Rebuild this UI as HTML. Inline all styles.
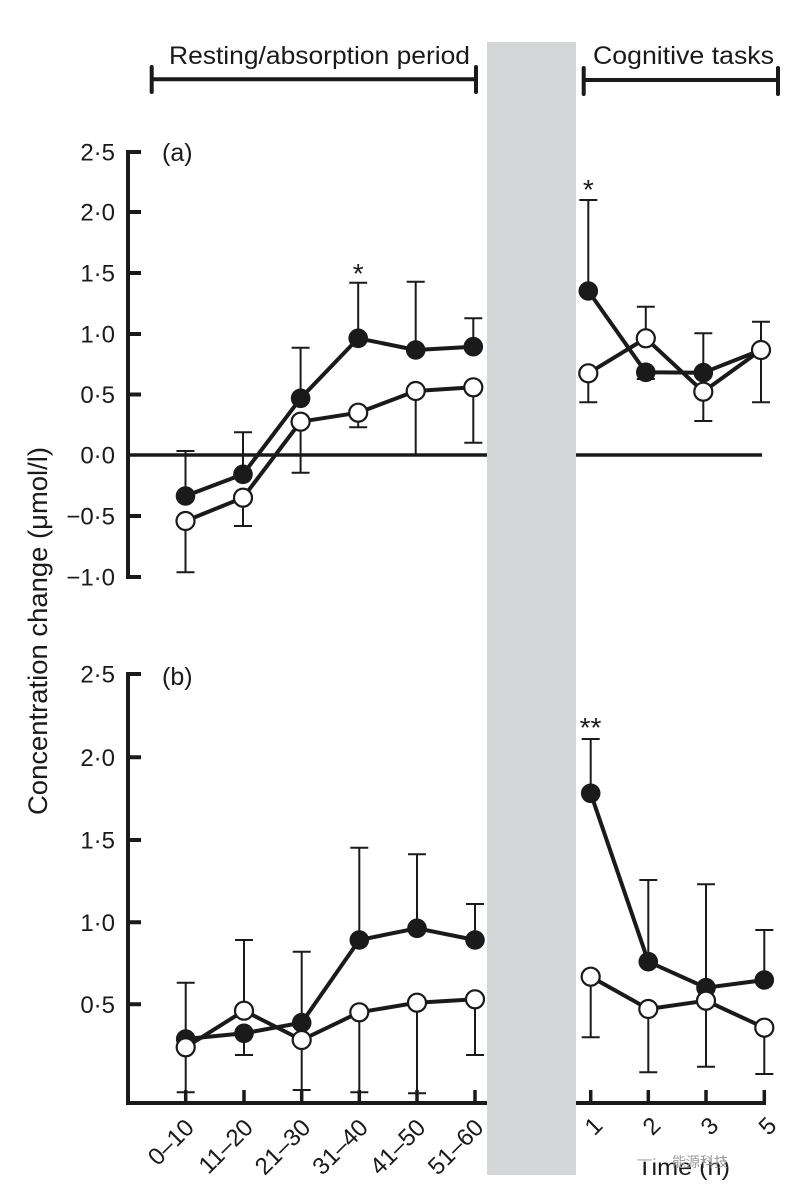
<!DOCTYPE html>
<html><head><meta charset="utf-8"><style>
html,body{margin:0;padding:0;background:#fff;}
svg{display:block;}
text{font-family:"Liberation Sans",Arial,sans-serif;fill:#1a1a1a;}
</style></head><body>
<svg width="803" height="1195" viewBox="0 0 803 1195" xmlns="http://www.w3.org/2000/svg">
<rect x="0" y="0" width="803" height="1195" fill="#fff"/>

<!-- headers -->
<text x="169" y="64" font-size="25" textLength="301" lengthAdjust="spacingAndGlyphs">Resting/absorption period</text>
<text x="593" y="64" font-size="25" textLength="181" lengthAdjust="spacingAndGlyphs">Cognitive tasks</text>
<g stroke="#1a1a1a" stroke-width="4" stroke-linecap="round" fill="none">
<path d="M151.7 79.3 H476 M151.7 67 V92 M476 67 V92"/>
<path d="M583.7 80 H778 M583.7 68 V94 M778 68 V94"/>
</g>

<!-- y label -->
<text transform="translate(47,631) rotate(-90)" text-anchor="middle" font-size="27" textLength="368" lengthAdjust="spacingAndGlyphs">Concentration change (μmol/l)</text>

<!-- Panel a axes -->
<g stroke="#1a1a1a" fill="none" stroke-width="4">
<path d="M128 150 V579"/>
<path d="M126 152 H141 M126 212 H141 M126 273 H141 M126 334 H141 M126 394.5 H141 M126 516 H141 M126 577 H141"/>
<path d="M126 455 H762" stroke-width="3.5"/>
</g>
<g font-size="24" text-anchor="end">
<text x="115" y="160.5">2·5</text>
<text x="115" y="220.5">2·0</text>
<text x="115" y="281.5">1·5</text>
<text x="115" y="342.5">1·0</text>
<text x="115" y="403">0·5</text>
<text x="115" y="463.5">0·0</text>
<text x="115" y="524.5">−0·5</text>
<text x="115" y="585.5">−1·0</text>
</g>
<text x="162" y="161" font-size="25">(a)</text>

<!-- Panel b axes -->
<g stroke="#1a1a1a" fill="none" stroke-width="4">
<path d="M128 672 V1105"/>
<path d="M126 674 H141 M126 757.3 H141 M126 840 H141 M126 922.3 H141 M126 1004.3 H141"/>
<path d="M126 1103 H766"/>
<path d="M185.7 1090 V1103 M244 1090 V1103 M301.7 1090 V1103 M359.3 1090 V1103 M417 1090 V1103 M475 1090 V1103 M590.7 1090 V1103 M648.3 1090 V1103 M706 1090 V1103 M764.3 1090 V1103" stroke-width="3.5"/>
</g>
<g font-size="24" text-anchor="end">
<text x="115" y="682.5">2·5</text>
<text x="115" y="765.8">2·0</text>
<text x="115" y="848.5">1·5</text>
<text x="115" y="930.8">1·0</text>
<text x="115" y="1012.8">0·5</text>
</g>
<text x="162" y="685" font-size="25">(b)</text>

<!-- Panel a error bars -->
<g stroke="#1a1a1a" stroke-width="2" fill="none">
<path d="M185.5 496 V451 M176.5 451 H194.5"/>
<path d="M243 474.3 V432.3 M234 432.3 H252"/>
<path d="M300.6 398.3 V347.7 M291.6 347.7 H309.6"/>
<path d="M358.2 338.3 V282.7 M349.2 282.7 H367.2"/>
<path d="M415.7 350 V281.7 M406.7 281.7 H424.7"/>
<path d="M473.3 346.7 V318.3 M464.3 318.3 H482.3"/>
<path d="M588.3 291 V200 M579.3 200 H597.3"/>
<path d="M645.8 372.3 V379 M636.8 379 H654.8"/>
<path d="M703.3 372.7 V333.3 M694.3 333.3 H712.3"/>
<path d="M761 350 V321.7 M752 321.7 H770"/>
<path d="M185.5 521 V572.3 M176.5 572.3 H194.5"/>
<path d="M243 497.7 V526 M234 526 H252"/>
<path d="M300.6 421.7 V472.7 M291.6 472.7 H309.6"/>
<path d="M358.2 412.7 V427.3 M349.2 427.3 H367.2"/>
<path d="M415.7 391 V455"/>
<path d="M473.3 387.3 V442.7 M464.3 442.7 H482.3"/>
<path d="M588.3 373.3 V402.3 M579.3 402.3 H597.3"/>
<path d="M645.8 338.3 V306.7 M636.8 306.7 H654.8"/>
<path d="M703.3 391.7 V421 M694.3 421 H712.3"/>
<path d="M761 350 V402.3 M752 402.3 H770"/>
</g>

<!-- Panel b error bars -->
<g stroke="#1a1a1a" stroke-width="2" fill="none">
<path d="M185.7 1039 V982.7 M176.7 982.7 H194.7"/>
<path d="M244 1033.3 V1055 M235 1055 H253"/>
<path d="M301.7 1022.7 V951.7 M292.7 951.7 H310.7"/>
<path d="M359.3 940 V847.7 M350.3 847.7 H368.3"/>
<path d="M417 928.3 V854.3 M408 854.3 H426"/>
<path d="M475 940 V904 M466 904 H484"/>
<path d="M590.7 793.3 V739 M581.7 739 H599.7"/>
<path d="M648.3 961.7 V880 M639.3 880 H657.3"/>
<path d="M706 987.7 V884.3 M697 884.3 H715"/>
<path d="M764.3 980 V930 M755.3 930 H773.3"/>
<path d="M185.7 1047.3 V1092.3 M176.7 1092.3 H194.7"/>
<path d="M244 1010.7 V940 M235 940 H253"/>
<path d="M301.7 1040 V1090 M292.7 1090 H310.7"/>
<path d="M359.3 1012.3 V1092.3 M350.3 1092.3 H368.3"/>
<path d="M417 1002.7 V1093.3 M408 1093.3 H426"/>
<path d="M475 999.3 V1055 M466 1055 H484"/>
<path d="M590.7 976.7 V1037.3 M581.7 1037.3 H599.7"/>
<path d="M648.3 1009 V1072.3 M639.3 1072.3 H657.3"/>
<path d="M706 1000.7 V1066.7 M697 1066.7 H715"/>
<path d="M764.3 1027.7 V1074 M755.3 1074 H773.3"/>
</g>

<!-- filled series -->
<g stroke="#1a1a1a" stroke-width="4" fill="none" stroke-linejoin="round">
<polyline points="185.5,496 243,474.3 300.6,398.3 358.2,338.3 415.7,350 473.3,346.7"/>
<polyline points="588.3,291 645.8,372.3 703.3,372.7 761,350"/>
<polyline points="185.7,1039 244,1033.3 301.7,1022.7 359.3,940 417,928.3 475,940"/>
<polyline points="590.7,793.3 648.3,961.7 706,987.7 764.3,980"/>
</g>
<g fill="#1a1a1a">
<circle cx="185.5" cy="496" r="9.8"/><circle cx="243" cy="474.3" r="9.8"/><circle cx="300.6" cy="398.3" r="9.8"/><circle cx="358.2" cy="338.3" r="9.8"/><circle cx="415.7" cy="350" r="9.8"/><circle cx="473.3" cy="346.7" r="9.8"/>
<circle cx="588.3" cy="291" r="9.8"/><circle cx="645.8" cy="372.3" r="9.8"/><circle cx="703.3" cy="372.7" r="9.8"/><circle cx="761" cy="350" r="9.8"/>
<circle cx="185.7" cy="1039" r="9.8"/><circle cx="244" cy="1033.3" r="9.8"/><circle cx="301.7" cy="1022.7" r="9.8"/><circle cx="359.3" cy="940" r="9.8"/><circle cx="417" cy="928.3" r="9.8"/><circle cx="475" cy="940" r="9.8"/>
<circle cx="590.7" cy="793.3" r="9.8"/><circle cx="648.3" cy="961.7" r="9.8"/><circle cx="706" cy="987.7" r="9.8"/><circle cx="764.3" cy="980" r="9.8"/>
</g>

<!-- open series -->
<g stroke="#1a1a1a" stroke-width="4" fill="none" stroke-linejoin="round">
<polyline points="185.5,521 243,497.7 300.6,421.7 358.2,412.7 415.7,391 473.3,387.3"/>
<polyline points="588.3,373.3 645.8,338.3 703.3,391.7 761,350"/>
<polyline points="185.7,1047.3 244,1010.7 301.7,1040 359.3,1012.3 417,1002.7 475,999.3"/>
<polyline points="590.7,976.7 648.3,1009 706,1000.7 764.3,1027.7"/>
</g>
<g fill="#fff" stroke="#1a1a1a" stroke-width="2.2">
<circle cx="185.5" cy="521" r="9"/><circle cx="243" cy="497.7" r="9"/><circle cx="300.6" cy="421.7" r="9"/><circle cx="358.2" cy="412.7" r="9"/><circle cx="415.7" cy="391" r="9"/><circle cx="473.3" cy="387.3" r="9"/>
<circle cx="588.3" cy="373.3" r="9"/><circle cx="645.8" cy="338.3" r="9"/><circle cx="703.3" cy="391.7" r="9"/><circle cx="761" cy="350" r="9"/>
<circle cx="185.7" cy="1047.3" r="9"/><circle cx="244" cy="1010.7" r="9"/><circle cx="301.7" cy="1040" r="9"/><circle cx="359.3" cy="1012.3" r="9"/><circle cx="417" cy="1002.7" r="9"/><circle cx="475" cy="999.3" r="9"/>
<circle cx="590.7" cy="976.7" r="9"/><circle cx="648.3" cy="1009" r="9"/><circle cx="706" cy="1000.7" r="9"/><circle cx="764.3" cy="1027.7" r="9"/>
</g>

<!-- asterisks -->
<g font-size="28" text-anchor="middle">
<text x="358.2" y="283">*</text>
<text x="588.3" y="199">*</text>
<text x="590.5" y="737">**</text>
</g>

<!-- gray band -->
<rect x="487" y="42" width="89" height="1133" fill="#d5d6d8"/>

<!-- x tick labels -->
<g font-size="24" text-anchor="end">
<text x="195.5" y="1129" transform="rotate(-45 195.5 1129)">0–10</text>
<text x="254.5" y="1129" transform="rotate(-45 254.5 1129)">11–20</text>
<text x="312" y="1129" transform="rotate(-45 312 1129)">21–30</text>
<text x="369.5" y="1129" transform="rotate(-45 369.5 1129)">31–40</text>
<text x="427" y="1129" transform="rotate(-45 427 1129)">41–50</text>
<text x="485" y="1129" transform="rotate(-45 485 1129)">51–60</text>
<text x="604" y="1127" transform="rotate(-45 604 1127)">1</text>
<text x="662" y="1127" transform="rotate(-45 662 1127)">2</text>
<text x="720" y="1127" transform="rotate(-45 720 1127)">3</text>
<text x="778" y="1127" transform="rotate(-45 778 1127)">5</text>
</g>

<!-- axis title partly covered by watermark -->
<text x="637" y="1175" font-size="23" textLength="93" lengthAdjust="spacingAndGlyphs">Time (h)</text>
<rect x="630" y="1148" width="110" height="14" fill="#fff" opacity="0.75"/>
<text x="672" y="1167" font-size="14" style="fill:#9a9a9a" font-family="'Liberation Sans','Noto Sans CJK SC',sans-serif">能源科技</text>
</svg>
</body></html>
